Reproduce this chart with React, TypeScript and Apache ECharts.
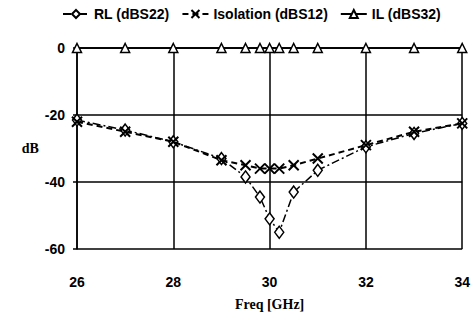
import React, { useEffect, useRef } from "react";
import * as echarts from "echarts";

const freqs = [26, 27, 28, 29, 29.5, 29.8, 30, 30.2, 30.5, 31, 32, 33, 34];
const rlValues = [-21.5, -24.5, -28, -33, -38.5, -44.5, -51, -55, -43, -36.5, -29.5, -25.5, -22.5];
const isoValues = [-22, -25, -28, -33.5, -35, -36, -36, -36, -35, -33, -29, -25, -22.5];
const ilValues = [0, 0, 0, 0, 0, 0, 0, 0, 0, 0, 0, 0, 0];
const seriesNames = ["RL (dBS22)", "Isolation (dBS12)", "IL (dBS32)"];
const xTicks = { min: 26, max: 34, interval: 2 };
const yTicks = { min: -60, max: 0, interval: 20 };

const xSymbol = "path://M0,0 L10,10 M10,0 L0,10";

export default function App() {
  const ref = useRef<HTMLDivElement>(null);
  useEffect(() => {
    if (!ref.current) return;
    const chart = echarts.init(ref.current, null, { renderer: "svg" });
    const pair = (vals: number[]) => freqs.map((f, i) => [f, vals[i]]);
    const font = "'Liberation Sans', Arial, sans-serif";
    const serif = "'Liberation Serif', 'Times New Roman', serif";
    chart.setOption({
      animation: false,
      backgroundColor: "#ffffff",
      legend: {
        top: 7,
        left: 62,
        width: 420,
        padding: 0,
        itemWidth: 26,
        itemHeight: 10,
        itemGap: 12,
        textStyle: { fontFamily: font, fontWeight: "bold", fontSize: 14, color: "#000" },
        data: seriesNames,
      },
      grid: { left: 77, right: 9, top: 48, bottom: 71 },
      xAxis: {
        type: "value",
        min: xTicks.min,
        max: xTicks.max,
        interval: xTicks.interval,
        name: "Freq [GHz]",
        nameLocation: "middle",
        nameGap: 48,
        nameTextStyle: { fontFamily: serif, fontWeight: "bold", fontSize: 14, color: "#000" },
        axisLine: { lineStyle: { color: "#000", width: 1.5 } },
        axisTick: { show: true, length: 4, lineStyle: { color: "#000", width: 1.5 } },
        axisLabel: { fontFamily: font, fontWeight: "bold", fontSize: 14, color: "#000", margin: 26 },
        splitLine: { show: true, lineStyle: { color: "#000", width: 1.5 } },
      },
      yAxis: {
        type: "value",
        min: yTicks.min,
        max: yTicks.max,
        interval: yTicks.interval,
        name: "dB",
        nameLocation: "middle",
        nameRotate: 0,
        nameGap: 38,
        nameTextStyle: { fontFamily: serif, fontWeight: "bold", fontSize: 14, color: "#000" },
        axisLine: { show: true, lineStyle: { color: "#000", width: 1.5 } },
        axisTick: { show: true, length: 4, lineStyle: { color: "#000", width: 1.5 } },
        axisLabel: { fontFamily: font, fontWeight: "bold", fontSize: 14, color: "#000", margin: 12 },
        splitLine: { show: true, lineStyle: { color: "#000", width: 1.5 } },
      },
      series: [
        {
          name: seriesNames[0],
          type: "line",
          data: pair(rlValues),
          symbol: "diamond",
          symbolSize: [9, 12],
          itemStyle: { color: "#fff", borderColor: "#000", borderWidth: 1.5 },
          lineStyle: { color: "#000", width: 1.5, type: [8, 3, 2, 3] },
          z: 3,
        },
        {
          name: seriesNames[1],
          type: "line",
          data: pair(isoValues),
          symbol: xSymbol,
          symbolSize: 10,
          itemStyle: { color: "none", borderColor: "#000", borderWidth: 2 },
          lineStyle: { color: "#000", width: 2, type: [6, 4] },
          z: 4,
        },
        {
          name: seriesNames[2],
          type: "line",
          data: pair(ilValues),
          symbol: "triangle",
          symbolSize: 9,
          itemStyle: { color: "#fff", borderColor: "#000", borderWidth: 1.5 },
          lineStyle: { color: "#000", width: 1.5 },
          z: 5,
        },
      ],
    });
    return () => chart.dispose();
  }, []);
  return (
    <div
      ref={ref}
      style={{ position: "fixed", left: 0, top: 0, width: 473, height: 320 }}
    />
  );
}
